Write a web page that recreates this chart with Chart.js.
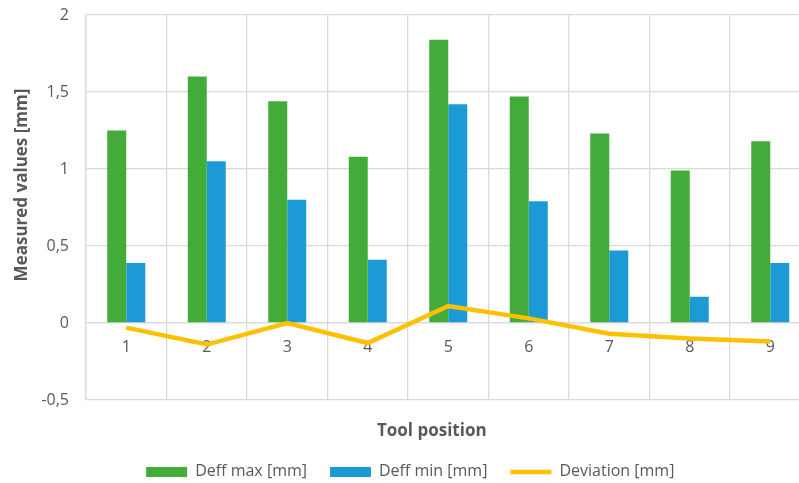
<!DOCTYPE html>
<html>
<head>
<meta charset="utf-8">
<script src="https://cdn.jsdelivr.net/npm/chart.js@4/dist/chart.umd.min.js"></script>
<style>
  html, body { margin: 0; padding: 0; background: #ffffff; overflow: hidden; }
  #wrap { position: absolute; left: 0; top: 0; width: 830px; height: 500px; }
</style>
</head>
<body>
<div id="wrap"><canvas id="chart" width="830" height="500"></canvas></div>
<script>
// Tool positions along the category axis
const positions = ['1', '2', '3', '4', '5', '6', '7', '8', '9'];
// Effective diameter, maximum and minimum [mm]
const deffMax = [1.25, 1.60, 1.44, 1.08, 1.84, 1.47, 1.23, 0.99, 1.18];
const deffMin = [0.39, 1.05, 0.80, 0.41, 1.42, 0.79, 0.47, 0.17, 0.39];
// Deviation [mm]
const deviation = [-0.03, -0.14, 0.00, -0.13, 0.11, 0.03, -0.07, -0.10, -0.12];
// Value axis settings
const yMin = -0.5, yMax = 2, yStep = 0.5;

const FONT = '"Open Sans", "Noto Sans", sans-serif';
const TEXT = '#595959';
const GRID = '#d9d9d9';

// Rotated caption for the value axis
const yCaption = {
  id: 'yCaption',
  afterDraw(chart) {
    const { ctx, chartArea } = chart;
    ctx.save();
    ctx.translate(22, (chartArea.top + chartArea.bottom) / 2 - 22.5);
    ctx.rotate(-Math.PI / 2);
    ctx.font = 'bold 17px ' + FONT;
    ctx.fillStyle = TEXT;
    ctx.textAlign = 'center';
    ctx.textBaseline = 'middle';
    ctx.fillText('Measured values [mm]', 0, 0);
    ctx.restore();
  }
};

// Move the category-axis caption a little to the right of the legend centre
const captionNudge = {
  id: 'captionNudge',
  afterLayout(chart) {
    const t = chart.titleBlock;
    if (t) { t.left += 21.5; t.right += 21.5; }
  }
};

new Chart(document.getElementById('chart'), {
  type: 'bar',
  data: {
    labels: positions,
    datasets: [
      {
        label: 'Deff max [mm]',
        data: deffMax,
        backgroundColor: '#43AB3A',
        borderWidth: 0,
        pointStyle: 'rect',
        order: 1
      },
      {
        label: 'Deff min [mm]',
        data: deffMin,
        backgroundColor: '#1B9AD6',
        borderWidth: 0,
        pointStyle: 'rect',
        order: 1
      },
      {
        type: 'line',
        label: 'Deviation [mm]',
        data: deviation,
        borderColor: '#FFC000',
        backgroundColor: '#FFC000',
        borderWidth: 4.5,
        pointRadius: 0,
        pointHoverRadius: 0,
        pointStyle: 'line',
        tension: 0,
        fill: false,
        order: 0
      }
    ]
  },
  options: {
    responsive: false,
    animation: false,
    devicePixelRatio: 1,
    datasets: {
      bar: { categoryPercentage: 0.472, barPercentage: 1 }
    },
    layout: { padding: { left: 10, right: 19.5, top: 15, bottom: 10.1 } },
    scales: {
      x: {
        position: { y: 0 },
        offset: true,
        grid: { display: true, offset: true, color: GRID, lineWidth: 1.3, drawTicks: false },
        border: { display: true, color: GRID, width: 1.3 },
        ticks: { color: TEXT, font: { family: FONT, size: 16 }, padding: 15 }
      },
      y: {
        min: yMin,
        max: yMax,
        afterFit(scale) {
          scale.width = 76;
          scale.paddingTop = 0;
          scale.paddingBottom = 0;
        },
        grid: { color: GRID, lineWidth: 1.3, drawTicks: false },
        border: { display: true, color: GRID, width: 1.3 },
        ticks: {
          stepSize: yStep,
          color: TEXT,
          padding: 17,
          font: { family: FONT, size: 16 },
          callback: (v) => String(v).replace('.', ',')
        }
      }
    },
    plugins: {
      tooltip: { enabled: false },
      title: {
        display: true,
        position: 'bottom',
        weight: 500,
        text: 'Tool position',
        color: TEXT,
        font: { family: FONT, size: 17, weight: 'bold' },
        padding: { top: 20.5, bottom: 0 }
      },
      legend: {
        position: 'bottom',
        labels: {
          usePointStyle: true,
          pointStyleWidth: 41,
          boxHeight: 10,
          padding: 23,
          color: TEXT,
          font: { family: FONT, size: 16 },
          sort: (a, b) => a.datasetIndex - b.datasetIndex
        }
      }
    }
  },
  plugins: [yCaption, captionNudge]
});
</script>
</body>
</html>
